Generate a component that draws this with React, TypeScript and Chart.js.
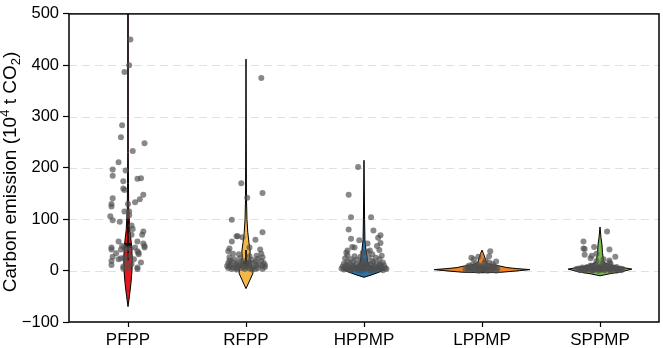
import React, { useEffect, useRef } from "react";
import { Chart, registerables } from "chart.js";

Chart.register(...registerables);

// ---------- data ----------
const categories = ["PFPP", "RFPP", "HPPMP", "LPPMP", "SPPMP"];
const yMin = -100;
const yMax = 500;
const yStep = 100;
const violinColors = ["#e3191f", "#f1b74a", "#2476b3", "#f08424", "#7bbb4a"];

// scatter values (10^4 t CO2) and horizontal jitter (category units)
const pfppValues = [450, 400, 387, 283, 260, 248, 233, 211, 195, 197, 185, 179, 180, 174, 160, 157, 148, 139, 133, 141, 130, 125, 130, 115, 115, 108, 106, 98, 95, 88, 81, 70, 76, 70, 57, 57, 53, 48, 45, 45, 41, 48, 45, 41, 43, 45, 38, 35, 34, 41, 27, 19, 11, 24, 25, 29, 22, 32, 16, 8, 4, 6, 3, 19, 13, 22, 6];
const pfppJitter = [0.02, 0.01, -0.03, -0.05, -0.06, 0.14, 0.04, -0.08, -0.02, -0.13, -0.13, 0.08, 0.11, -0.04, -0.04, -0.03, 0.13, 0.1, 0.06, -0.13, -0.14, -0.14, 0.0, -0.03, 0.01, 0.01, -0.15, -0.13, -0.07, 0.03, 0.04, 0.03, 0.13, 0.12, -0.08, 0.08, 0.13, 0.14, 0.14, -0.14, -0.14, -0.05, -0.03, -0.02, 0.02, 0.06, 0.08, 0.09, -0.1, -0.06, -0.13, -0.14, -0.14, -0.06, -0.03, 0.01, 0.05, 0.09, 0.11, -0.04, -0.04, 0.08, 0.08, -0.02, 0.03, -0.08, 0.0];

const rfppValues = [375, 170, 142, 151, 99, 75, 60, 67, 67, 65, 57, 43, 38, 33, 45, 41, 33, 29, 32, 26, 22, 20, 18, 15, 12, 10, 8, 6, 5, 4, 3, 24, 19, 16, 13, 11, 9, 7, 5, 3, 2, 28, 21, 17, 14, 11, 8, 6, 4, 3, 23, 19, 15, 12, 9, 7, 5, 3, 2, 18, 10, 13, 9, 16, 26, 7, 11];
const rfppJitter = [0.13, -0.04, 0.01, 0.14, -0.12, 0.14, 0.08, -0.08, -0.07, -0.03, -0.12, -0.14, -0.15, -0.11, 0.03, 0.12, 0.13, 0.09, -0.06, -0.14, -0.1, -0.14, -0.12, -0.15, -0.13, -0.09, -0.14, -0.11, -0.15, -0.08, -0.12, -0.05, -0.03, -0.07, -0.02, -0.05, -0.03, -0.07, -0.04, -0.01, -0.08, 0.03, 0.05, 0.02, 0.07, 0.03, 0.01, 0.06, 0.03, 0.08, 0.1, 0.13, 0.15, 0.11, 0.14, 0.16, 0.1, 0.14, 0.05, 0.08, 0.09, -0.08, -0.16, 0.03, 0.14, -0.01, 0.16];

const hppmpValues = [202, 148, 104, 104, 80, 78, 62, 59, 69, 64, 53, 54, 48, 40, 39, 35, 45, 46, 39, 30, 28, 27, 26, 25, 29, 24, 22, 21, 20, 19, 22, 18, 17, 16, 15, 17, 16, 14, 13, 12, 13, 12, 14, 12, 11, 10, 9, 10, 9, 11, 10, 8, 7, 7, 8, 7, 8, 7, 6, 5, 5, 6, 5, 6, 5, 4, 3, 4, 3, 4, 3, 4, 2, 2, 1, 2, 1, 2, 1, 3, 1, 0, 0, 35, 32, 37];
const hppmpJitter = [-0.05, -0.13, -0.11, 0.06, -0.13, 0.08, -0.11, -0.04, 0.14, 0.12, 0.03, 0.14, 0.11, 0.13, -0.14, -0.15, -0.08, -0.1, 0.05, -0.14, -0.08, -0.03, 0.04, 0.1, 0.15, -0.16, -0.11, -0.06, 0.0, 0.07, 0.13, -0.14, -0.09, -0.03, 0.03, 0.08, 0.16, -0.17, -0.12, -0.07, -0.01, 0.05, 0.11, 0.14, -0.15, -0.1, -0.04, 0.02, 0.08, 0.13, 0.17, -0.18, -0.13, -0.08, -0.02, 0.03, 0.09, 0.15, -0.16, -0.11, -0.05, 0.01, 0.06, 0.12, 0.18, -0.19, -0.14, -0.08, -0.03, 0.03, 0.08, 0.14, -0.17, -0.1, -0.05, 0.0, 0.05, 0.1, 0.16, 0.19, -0.12, -0.02, 0.07, -0.01, 0.07, 0.03];

const lppmpValues = [38, 28, 18, 13, 25, 22, 27, 12, 10, 9, 8, 10, 9, 7, 6, 6, 7, 6, 7, 5, 4, 5, 4, 5, 4, 3, 3, 2, 3, 2, 3, 1, 1, 1, 1, 1, 0, 2, 0, 0, 15, 11, 14, 16, 20];
const lppmpJitter = [0.07, 0.06, 0.12, 0.09, -0.09, -0.07, -0.03, -0.08, -0.11, -0.05, 0.0, 0.04, 0.1, -0.12, -0.08, -0.03, 0.03, 0.07, 0.11, -0.1, -0.06, -0.01, 0.04, 0.08, 0.13, -0.12, -0.08, -0.04, 0.0, 0.05, 0.09, -0.1, -0.06, -0.02, 0.03, 0.08, 0.12, -0.14, -0.03, 0.05, 0.02, -0.03, -0.05, 0.06, 0.03];

const sppmpValues = [76, 57, 43, 42, 46, 41, 31, 29, 33, 24, 27, 20, 16, 22, 19, 9, 8, 9, 8, 7, 7, 6, 7, 6, 7, 6, 5, 5, 5, 5, 5, 4, 4, 4, 4, 3, 4, 3, 3, 3, 3, 2, 2, 2, 2, 2, 2, 1, 1, 1, 1, 0, 1, 0, 0, 0, 0, 12, 11, 13, 10, 14];
const sppmpJitter = [0.06, -0.14, -0.14, -0.13, -0.05, 0.08, -0.13, -0.07, -0.03, -0.08, 0.13, 0.08, 0.08, 0.03, -0.03, -0.07, -0.02, 0.04, 0.09, -0.11, -0.05, 0.0, 0.06, 0.11, 0.14, -0.15, -0.09, -0.03, 0.03, 0.08, 0.13, 0.17, -0.18, -0.12, -0.07, -0.01, 0.05, 0.1, 0.15, 0.19, -0.2, -0.15, -0.1, -0.04, 0.02, 0.08, 0.13, 0.18, -0.17, -0.12, -0.06, -0.01, 0.04, 0.09, 0.14, -0.13, -0.07, -0.04, 0.03, 0.09, -0.08, 0.02];

// violin outlines: levels (value) and half widths (category units)
const pfppViolinY = [-70, -50, -25, 0, 25, 50, 80, 120, 170, 230, 300, 600];
const pfppViolinW = [0, 0.012, 0.025, 0.034, 0.036, 0.03, 0.015, 0.006, 0.004, 0.002, 0.002, 0.002];
const rfppViolinY = [-35, -20, -5, 5, 15, 25, 38, 55, 75, 100, 140, 200, 412];
const rfppViolinW = [0, 0.03, 0.059, 0.055, 0.038, 0.032, 0.035, 0.025, 0.015, 0.008, 0.004, 0.003, 0];
const hppmpViolinY = [-13, -8, -3, 2, 6, 10, 18, 30, 40, 60, 100, 215];
const hppmpViolinW = [0, 0.068, 0.127, 0.177, 0.118, 0.051, 0.03, 0.025, 0.017, 0.008, 0.005, 0];
const lppmpViolinY = [-4, -3, 0, 2, 4, 6, 9, 12, 16, 25, 33, 40];
const lppmpViolinW = [0, 0.169, 0.321, 0.405, 0.296, 0.211, 0.152, 0.068, 0.034, 0.025, 0.013, 0];
const sppmpViolinY = [-10, -6, -2, 3, 7, 11, 15, 20, 35, 50, 65, 85];
const sppmpViolinW = [0, 0.084, 0.186, 0.27, 0.169, 0.084, 0.042, 0.03, 0.021, 0.017, 0.008, 0];

const medians = [49, 14, 6, 3, 4];
const quartileLow = [20, 5, 2, 1, 1];
const quartileHigh = [100, 40, 12, 5, 8];

const scatterValues = [pfppValues, rfppValues, hppmpValues, lppmpValues, sppmpValues];
const scatterJitter = [pfppJitter, rfppJitter, hppmpJitter, lppmpJitter, sppmpJitter];
const violinLevels = [pfppViolinY, rfppViolinY, hppmpViolinY, lppmpViolinY, sppmpViolinY];
const violinWidths = [pfppViolinW, rfppViolinW, hppmpViolinW, lppmpViolinW, sppmpViolinW];

const FONT = "'Liberation Sans', Arial, Helvetica, sans-serif";

const violinPlugin = {
  id: "violins",
  beforeDatasetsDraw(chart: any) {
    const { ctx, chartArea, scales } = chart;
    const x = scales.x;
    const y = scales.y;
    ctx.save();
    ctx.beginPath();
    ctx.rect(chartArea.left, chartArea.top, chartArea.right - chartArea.left, chartArea.bottom - chartArea.top);
    ctx.clip();
    // dashed horizontal grid
    ctx.save();
    ctx.strokeStyle = "#e0e0e0";
    ctx.lineWidth = 1;
    ctx.setLineDash([8, 5]);
    y.ticks.forEach((t: any) => {
      if (t.value <= yMin || t.value >= yMax) return;
      const py = Math.round(y.getPixelForValue(t.value)) + 0.5;
      ctx.beginPath();
      ctx.moveTo(chartArea.left, py);
      ctx.lineTo(chartArea.right, py);
      ctx.stroke();
    });
    ctx.restore();
    violinLevels.forEach((levels, i) => {
      const w = violinWidths[i];
      const c = i + 1;
      ctx.beginPath();
      levels.forEach((v, k) => {
        const px = x.getPixelForValue(c + w[k]);
        const py = y.getPixelForValue(v);
        if (k === 0) ctx.moveTo(px, py);
        else ctx.lineTo(px, py);
      });
      for (let k = levels.length - 1; k >= 0; k--) {
        ctx.lineTo(x.getPixelForValue(c - w[k]), y.getPixelForValue(levels[k]));
      }
      ctx.closePath();
      ctx.fillStyle = violinColors[i];
      ctx.fill();
      ctx.lineWidth = 1;
      ctx.strokeStyle = "#000";
      ctx.stroke();
      // inner box
      const cx = x.getPixelForValue(c);
      ctx.beginPath();
      ctx.lineWidth = 1.6;
      ctx.moveTo(cx, y.getPixelForValue(quartileLow[i]));
      ctx.lineTo(cx, y.getPixelForValue(quartileHigh[i]));
      ctx.stroke();
      const my = y.getPixelForValue(medians[i]);
      ctx.fillStyle = "#111";
      ctx.fillRect(cx - 3, my - 2.5, 6, 5);
    });
    ctx.restore();
  },
  afterDraw(chart: any) {
    const { ctx, chartArea } = chart;
    ctx.save();
    ctx.strokeStyle = "#000";
    ctx.lineWidth = 1.5;
    ctx.strokeRect(chartArea.left, chartArea.top, chartArea.right - chartArea.left, chartArea.bottom - chartArea.top);
    // y-axis title with superscript / subscript
    const segs = [
      { t: "Carbon emission (10", s: 19, d: 0 },
      { t: "4", s: 13, d: -7 },
      { t: " t CO", s: 19, d: 0 },
      { t: "2", s: 13, d: 4 },
      { t: ")", s: 19, d: 0 },
    ];
    let total = 0;
    segs.forEach((sg) => {
      ctx.font = `${sg.s}px ${FONT}`;
      total += ctx.measureText(sg.t).width;
    });
    const cy = (chartArea.top + chartArea.bottom) / 2 + 4;
    ctx.translate(16, cy);
    ctx.rotate(-Math.PI / 2);
    ctx.fillStyle = "#000";
    ctx.textBaseline = "alphabetic";
    let pos = -total / 2;
    segs.forEach((sg) => {
      ctx.font = `${sg.s}px ${FONT}`;
      ctx.fillText(sg.t, pos, sg.d);
      pos += ctx.measureText(sg.t).width;
    });
    ctx.restore();
  },
};

export default function App() {
  const ref = useRef<HTMLCanvasElement | null>(null);
  useEffect(() => {
    document.body.style.margin = "0";
    const canvas = ref.current;
    if (!canvas) return;
    const datasets = scatterValues.map((vals, i) => ({
      label: categories[i],
      data: vals.map((v, k) => ({ x: i + 1 + (scatterJitter[i][k] ?? 0), y: v })),
      backgroundColor: "rgba(80,80,80,0.68)",
      borderWidth: 0,
      pointRadius: 3,
    }));
    const chart = new Chart(canvas, {
      type: "scatter",
      data: { datasets },
      plugins: [violinPlugin],
      options: {
        animation: false,
        responsive: false,
        devicePixelRatio: 1,
        layout: { padding: { top: 8, right: 2, left: 0, bottom: 0 } },
        plugins: { legend: { display: false }, tooltip: { enabled: false } },
        scales: {
          x: {
            type: "linear",
            min: 0.5,
            max: categories.length + 0.5,
            afterBuildTicks: (scale: any) => {
              scale.ticks = categories.map((_, i) => ({ value: i + 1 }));
            },
            afterFit: (scale: any) => {
              scale.height = 26;
            },
            ticks: {
              autoSkip: false,
              maxRotation: 0,
              padding: 3,
              color: "#000",
              font: { family: FONT, size: 17 },
              callback: (v: any) => categories[Math.round(Number(v)) - 1] ?? "",
            },
            grid: { drawOnChartArea: false, drawTicks: true, tickLength: 5, tickColor: "#000", tickWidth: 1.2 },
            border: { display: false },
          },
          y: {
            type: "linear",
            min: yMin,
            max: yMax,
            ticks: {
              stepSize: yStep,
              padding: 4,
              color: "#000",
              font: { family: FONT, size: 16.5 },
              callback: (v: any) => (Number(v) < 0 ? "\u2212" + Math.abs(Number(v)) : String(v)),
            },
            afterFit: (scale: any) => {
              scale.width = 69;
            },
            grid: {
              drawOnChartArea: false,
              drawTicks: true,
              tickLength: 6,
              tickColor: "#000",
              tickWidth: 1.2,
            },
            border: { display: false },
          },
        },
      },
    } as any);
    return () => chart.destroy();
  }, []);
  return (
    <div style={{ width: 663, height: 348 }}>
      <canvas ref={ref} width={663} height={348} />
    </div>
  );
}
